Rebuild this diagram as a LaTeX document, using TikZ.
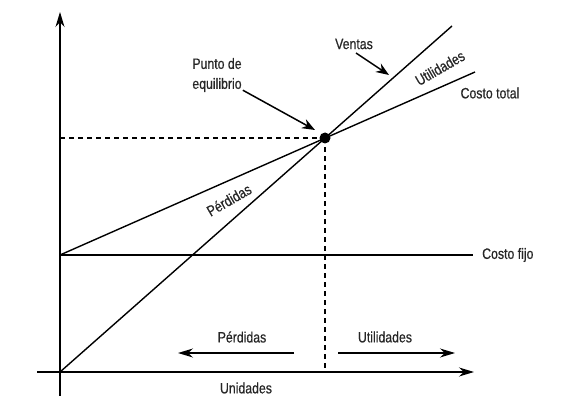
\documentclass[tikz,border=0pt]{standalone}
\usepackage{fontspec}
\setmainfont{Liberation Sans}[FakeStretch=0.82, FakeBold=0.6]
\usetikzlibrary{arrows.meta}

\begin{document}
\begin{tikzpicture}[x=1pt, y=-1pt,
  axis/.style={-{Stealth[length=15pt,width=9pt]}, line width=1.3pt},
  curve/.style={line width=1.4pt},
  guide/.style={line width=1.3pt, dash pattern=on 5pt off 4pt},
  pointer/.style={-{Stealth[length=13pt,width=10pt]}, line width=1.5pt},
  lbl/.style={font=\fontsize{15}{17}\selectfont, inner sep=0pt, text=black!85, align=center}
]
  \useasboundingbox (0,0) rectangle (563,396);

  % axes
  \coordinate (o)    at (60,372);
  \coordinate (ytop) at (60,12);
  \coordinate (ybot) at (60,396);
  \coordinate (xl)   at (37,372);
  \coordinate (xr)   at (474,372);
  \draw[axis] (ybot) -- (ytop);
  \draw[axis] (xl) -- (xr);
  \node[lbl] (unidades) at (246,388) {Unidades};

  % lines
  \coordinate (cf)   at (60,255);
  \coordinate (be)   at (325,138);
  \coordinate (ctend) at (475,72);
  \coordinate (vend)  at (452,26);
  \node[lbl, anchor=west] (fijo) at (482,255) {Costo fijo};
  \draw[curve] (cf) -- (473,255);
  \draw[curve] (cf) -- (ctend);
  \draw[curve] (o) -- (vend);

  % break-even point
  \draw[guide] (60,138) -- (be);
  \draw[guide] (be) -- (be |- o);
  \fill (be) circle (5.5pt);

  \node[lbl] (total)  at (490,93) {Costo total};
  \node[lbl] (ventas) at (354,44) {Ventas};
  \node[lbl] (punto)  at (217,75) {Punto de\\[3pt]equilibrio};
  \node[lbl, rotate=30] (util)  at (440,68)  {Utilidades};
  \node[lbl, rotate=30] (perd)  at (229,200) {Pérdidas};
  \draw[pointer] (356,53) -- (389,75);
  \draw[pointer] (punto.south east) ++(1,-2) -- (315,130);

  % regions
  \node[lbl] (perdb) at (242,337) {Pérdidas};
  \node[lbl] (utilb) at (385,337) {Utilidades};
  \draw[axis] (294,353) -- (178,353);
  \draw[axis] (338,353) -- (455,353);
\end{tikzpicture}
\end{document}
